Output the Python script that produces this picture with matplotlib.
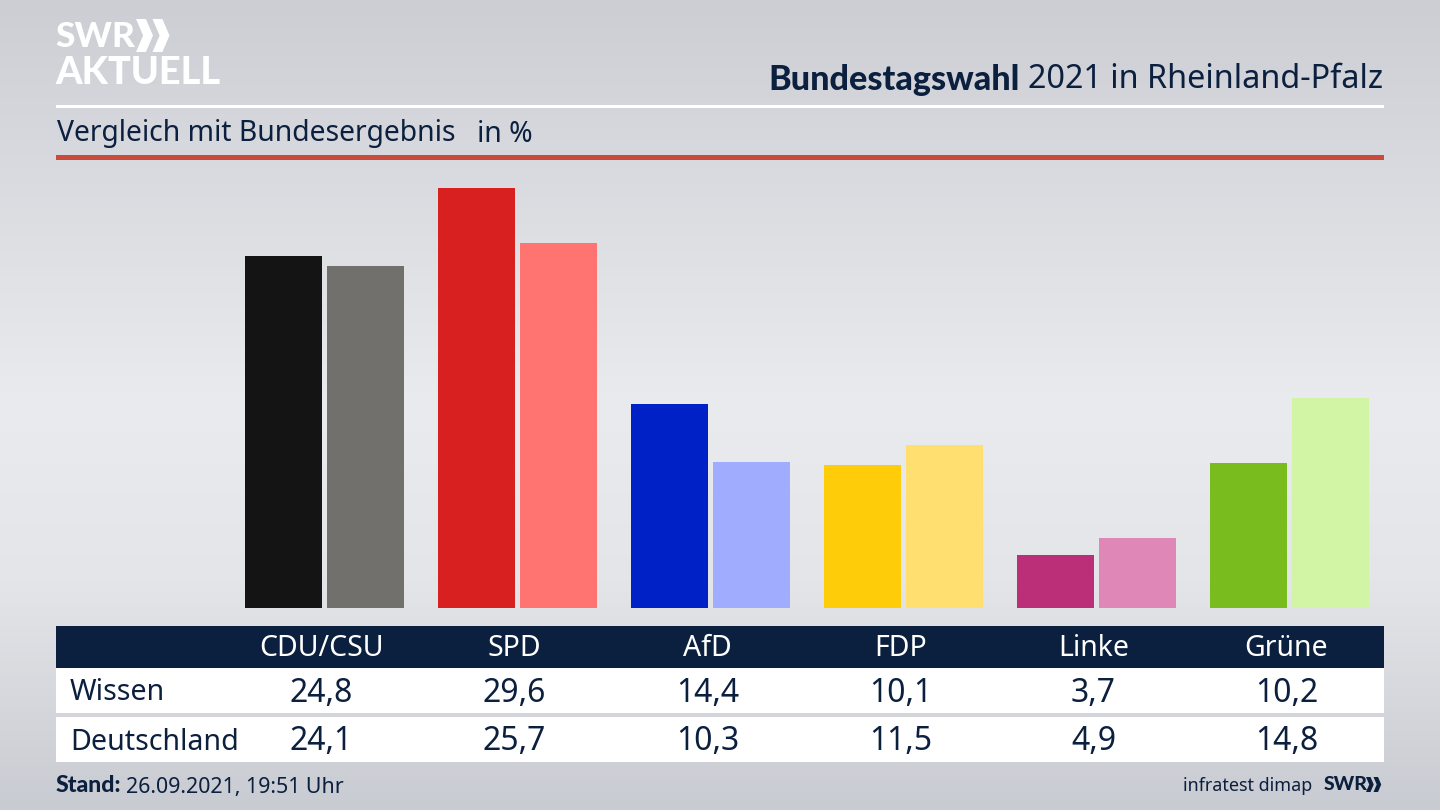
import numpy as np
import matplotlib
matplotlib.use("Agg")
import matplotlib.pyplot as plt
from matplotlib.colors import LinearSegmentedColormap
from matplotlib.patches import Polygon, Rectangle

PARTIES = ["CDU/CSU", "SPD", "AfD", "FDP", "Linke", "Grüne"]
WISSEN = [24.8, 29.6, 14.4, 10.1, 3.7, 10.2]
DEUTSCHLAND = [24.1, 25.7, 10.3, 11.5, 4.9, 14.8]
ROW_LABELS = ["Wissen", "Deutschland"]
COLORS_RP = ["#141414", "#d7201f", "#0021c6", "#ffcc0a", "#bb2f78", "#78bc1e"]
COLORS_DE = ["#72706d", "#ff7470", "#a0adff", "#ffdf70", "#df88b8", "#d2f5a5"]

NAVY = "#0b1f3e"
W, H = 1440, 810
BOLD = ["Lato", "Liberation Sans", "DejaVu Sans"]

plt.rcParams["font.family"] = ["Noto Sans", "DejaVu Sans"]
fig = plt.figure(figsize=(W / 100, H / 100), dpi=100)

# hintergrund + alles was in pixeln liegt
bg = fig.add_axes([0, 0, 1, 1])
bg.set_xlim(0, W)
bg.set_ylim(H, 0)
bg.axis("off")
cmap = LinearSegmentedColormap.from_list(
    "bg", [(0, "#ccced4"), (0.5, "#eaebee"), (0.72, "#e4e5e9"), (1, "#c8cbd1")]
)
grad = np.linspace(0, 1, 256).reshape(-1, 1)
bg.imshow(grad, cmap=cmap, extent=[0, W, H, 0], aspect="auto", zorder=0)


def chevrons(ax, x, y, h, color):
    # doppelpfeil vom SWR logo
    w = h * 0.41
    t = h * 0.30
    for k in range(2):
        x0 = x + k * h * 0.5
        ax.add_patch(Polygon(
            [(x0, y), (x0 + t, y), (x0 + w + t * 0.35, y + h / 2), (x0 + t, y + h),
             (x0, y + h), (x0 + w - t * 0.65, y + h / 2)],
            closed=True, color=color, lw=0, zorder=3))


# logo
bg.text(55, 37, "SWR", color="white", fontsize=25.5, fontweight="black", family=BOLD, va="center", ha="left")
chevrons(bg, 136, 19, 33, "white")
bg.text(55, 73, "AKTUELL", color="white", fontsize=27.3, fontweight="black", family=BOLD, va="center", ha="left")

# kopf
bg.text(1383, 80, "2021 in Rheinland-Pfalz", color=NAVY, fontsize=23.3, va="center", ha="right")
bg.text(1020, 80, "Bundestagswahl", color=NAVY, fontsize=24.6, fontweight="black", family=BOLD, va="center", ha="right")
bg.add_patch(Rectangle((56, 104.5), 1328, 3, color="white", lw=0, zorder=2))
bg.text(57, 134, "Vergleich mit Bundesergebnis", color=NAVY, fontsize=20.4, va="center", ha="left")
bg.text(477, 134, "in %", color=NAVY, fontsize=20.4, va="center", ha="left")
bg.add_patch(Rectangle((56, 155), 1328, 5, color="#c84b3c", lw=0, zorder=2))

# tabelle
bg.add_patch(Rectangle((56, 626), 1328, 42, color=NAVY, lw=0, zorder=2))
bg.add_patch(Rectangle((56, 668), 1328, 45, color="white", lw=0, zorder=2))
bg.add_patch(Rectangle((56, 717), 1328, 45, color="white", lw=0, zorder=2))

# balken
ax = fig.add_axes([228 / W, 1 - 608 / H, 1158 / W, 448 / H])
ax.patch.set_alpha(0)
x = np.arange(len(PARTIES))
ax.bar(x - 0.2124, WISSEN, width=0.399, color=COLORS_RP)
ax.bar(x + 0.2124, DEUTSCHLAND, width=0.399, color=COLORS_DE)
ax.set_xlim(-0.5, 5.5)
ax.set_ylim(0, 448 / 14.2)
ax.axis("off")

centers = [324.5 + 193 * i for i in range(len(PARTIES))]
for cx, party, a, b in zip(centers, PARTIES, WISSEN, DEUTSCHLAND):
    cx = cx - 3
    bg.text(cx, 649, party, color="white", fontsize=20.5, va="center", ha="center", zorder=4)
    bg.text(cx, 693, f"{a:.1f}".replace(".", ","), color=NAVY, fontsize=23, va="center", ha="center", zorder=4)
    bg.text(cx, 742, f"{b:.1f}".replace(".", ","), color=NAVY, fontsize=23, va="center", ha="center", zorder=4)
bg.text(70, 693, ROW_LABELS[0], color=NAVY, fontsize=20.6, va="center", ha="left", zorder=4)
bg.text(70, 742, ROW_LABELS[1], color=NAVY, fontsize=20.6, va="center", ha="left", zorder=4)

# fuss
bg.text(56, 786, "Stand:", color=NAVY, fontsize=16.6, fontweight="black", family=BOLD, va="center", ha="left")
bg.text(126, 787, "26.09.2021, 19:51 Uhr", color=NAVY, fontsize=15.4, va="center", ha="left")
bg.text(1312, 786, "infratest dimap", color=NAVY, fontsize=12.9, va="center", ha="right")
bg.text(1324, 785, "SWR", color=NAVY, fontsize=14, fontweight="black", family=BOLD, va="center", ha="left")
chevrons(bg, 1366, 777, 15, NAVY)

fig.savefig("out.png", dpi=100)
